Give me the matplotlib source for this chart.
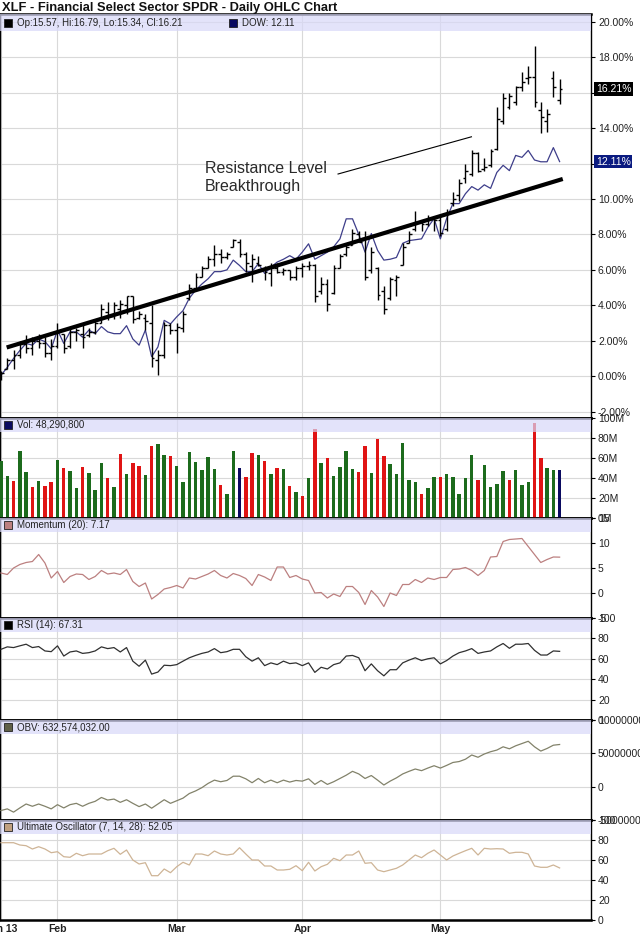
"""
XLF daily OHLC chart with volume and four indicator panels.
"""

import numpy as np
import matplotlib.pyplot as plt
from matplotlib.patches import Rectangle
from matplotlib.ticker import FuncFormatter

plt.rcParams['font.family'] = ['Liberation Sans', 'DejaVu Sans']

# ---- data (percent change) ----
title = "XLF - Financial Select Sector SPDR - Daily OHLC Chart"
month_pos = [0, 9, 28, 48, 70]
month_labels = ["Jan 13", "Feb", "Mar", "Apr", "May"]

open_ = [0.0, 0.4, 0.9, 1.2, 1.8, 1.6, 2.0, 1.9, 1.3, 1.7,
         2.4, 1.7, 2.5, 2.4, 2.3, 2.5, 3.0, 3.6, 3.4, 3.8,
         4.0, 4.5, 3.3, 3.3, 3.0, 0.9, 1.2, 2.9, 2.6, 2.7,
         4.4, 5.0, 5.6, 6.1, 6.6, 6.9, 6.7, 7.3, 7.6, 6.9,
         6.2, 6.4, 6.0, 5.8, 6.1, 5.9, 6.0, 5.6, 6.1, 6.2,
         6.3, 4.8, 5.2, 4.7, 6.1, 6.9, 7.4, 8.0, 7.8, 6.0,
         6.1, 4.8, 4.4, 5.4, 6.3, 7.5, 8.3, 8.7, 8.6, 8.9,
         8.8, 8.3, 9.8, 10.2, 11.2, 11.4, 12.6, 11.7, 11.9, 12.8,
         14.4, 15.2, 15.5, 16.3, 16.8, 16.9, 15.0, 14.4, 16.8, 15.57]
high = [0.3, 1.0, 1.5, 2.0, 2.3, 2.2, 2.4, 2.2, 2.1, 3.0,
        2.4, 2.8, 2.7, 3.0, 2.7, 3.15, 4.1, 4.2, 4.2, 4.3,
        4.55, 4.55, 3.7, 3.5, 4.0, 1.5, 3.06, 3.0, 3.0, 3.7,
        5.2, 5.8, 6.2, 6.8, 7.4, 7.2, 7.0, 7.75, 7.75, 7.0,
        6.9, 6.8, 6.2, 6.4, 6.4, 6.1, 6.0, 6.2, 6.4, 6.5,
        6.35, 5.6, 5.5, 6.25, 6.9, 7.5, 8.3, 8.2, 8.2, 7.3,
        6.15, 5.1, 5.6, 5.7, 7.5, 8.2, 9.35, 8.8, 9.1, 9.0,
        9.1, 9.45, 10.4, 11.1, 12.0, 12.75, 12.65, 12.3, 12.8, 15.2,
        16.0, 16.0, 16.4, 17.15, 17.5, 18.65, 15.45, 15.1, 17.25, 16.79]
low = [-0.2, 0.4, 0.4, 1.0, 1.3, 1.2, 1.6, 1.1, 0.9, 1.6,
       1.3, 1.6, 2.0, 1.6, 2.2, 2.4, 3.0, 3.15, 3.2, 3.3,
       3.5, 3.0, 3.2, 2.6, 0.5, 0.05, 1.0, 2.4, 1.3, 2.5,
       4.3, 5.0, 5.6, 6.1, 6.2, 6.4, 6.6, 7.3, 6.7, 5.9,
       5.3, 6.2, 5.4, 5.1, 5.8, 5.7, 5.4, 5.4, 5.6, 6.0,
       4.2, 4.65, 3.7, 4.65, 6.1, 6.8, 7.4, 7.55, 5.4, 5.8,
       4.3, 3.5, 4.3, 4.5, 6.25, 7.5, 8.2, 8.2, 8.5, 8.2,
       7.9, 8.2, 9.6, 9.9, 10.9, 11.3, 11.5, 11.6, 11.8, 12.75,
       14.25, 15.1, 15.3, 16.1, 16.5, 15.2, 13.7, 13.8, 15.75, 15.34]
close = [0.2, 0.9, 1.2, 1.8, 1.6, 2.0, 1.9, 1.3, 1.7, 2.5,
         1.6, 2.5, 2.6, 2.2, 2.5, 3.0, 3.8, 3.4, 4.0, 4.1,
         4.5, 3.2, 3.5, 3.1, 1.0, 1.2, 2.9, 2.6, 2.8, 3.5,
         5.0, 5.6, 6.1, 6.6, 6.9, 6.7, 6.9, 7.7, 6.9, 6.4,
         6.6, 6.3, 5.9, 6.1, 5.9, 6.0, 5.6, 6.1, 6.2, 6.3,
         4.5, 5.2, 4.1, 6.1, 6.8, 7.3, 8.1, 7.6, 5.6, 7.0,
         4.6, 3.8, 5.5, 5.6, 7.3, 8.0, 8.7, 8.6, 8.9, 8.8,
         8.1, 9.2, 10.0, 10.9, 11.6, 12.6, 11.6, 11.8, 12.7, 14.5,
         15.7, 15.8, 16.3, 16.6, 16.9, 15.5, 14.6, 14.8, 16.3, 16.21]
dow = [0.05, 0.5, 1.0, 1.45, 1.85, 1.75, 2.1, 1.95, 1.55, 2.6,
       1.85, 2.5, 2.5, 2.2, 2.6, 2.4, 2.8, 2.5, 2.4, 2.4,
       2.85, 2.1, 1.75, 2.6, 1.1, 1.65, 3.15, 2.95, 3.35, 3.7,
       4.4, 4.85, 5.2, 5.5, 5.9, 5.9, 6.0, 6.55, 6.25, 5.9,
       5.9, 6.35, 5.8, 6.15, 6.44, 6.6, 6.8, 6.6, 7.0, 7.47,
       6.6, 6.8, 7.0, 7.3, 7.75, 8.88, 8.88, 8.0, 7.0, 8.05,
       7.1, 6.55, 6.6, 6.7, 7.5, 7.65, 7.7, 7.75, 8.4, 8.9,
       7.75, 8.9, 9.74, 9.74, 10.3, 10.7, 10.5, 10.8, 10.6, 11.5,
       11.9, 11.6, 12.46, 12.35, 12.74, 12.2, 12.1, 12.1, 12.9, 12.11]

# trend line and note line endpoints (bar index, percent)
trend_x = [0.9, 89.5]
trend_y = [1.62, 11.13]
note_x = [53.7, 74.95]
note_y = [11.41, 13.51]
note_text = "Resistance Level\nBreakthrough"
note_pos = (32.5, 12.15)

# volume in millions, G = up day, R = down day, N = latest
volume = [57, 42, 37, 67, 46, 31, 37, 32, 36, 58,
          50, 47, 30, 51, 45, 28, 55, 40, 31, 64,
          44, 55, 52, 43, 72, 74, 63, 62, 52, 36,
          66, 56, 48, 61, 49, 33, 24, 67, 50, 41,
          65, 63, 57, 44, 50, 49, 32, 26, 22, 40,
          89, 55, 60, 42, 51, 67, 49, 46, 72, 45,
          79, 62, 54, 44, 75, 38, 36, 24, 30, 41,
          41, 44, 41, 24, 40, 63, 38, 53, 31, 34,
          47, 38, 48, 33, 36, 95, 60, 50, 48, 48.2908]
vol_dir = list("GGRGGRGRRG" "RGGRGGGRGR" "GRRGRGGRGG" "GGGGGRGGNR"
               "RGRGRGRGRG" "RGRGGGGRRG" "RRGGGGGRGG" "RGGGGGRGGG"
               "GRGGGRRGGN")

momentum = [4.0, 3.7, 5.0, 5.7, 6.1, 6.3, 7.7, 6.0, 3.0, 4.3,
            2.1, 3.3, 3.8, 3.7, 2.7, 3.3, 4.5, 3.8, 4.0, 3.7,
            4.7, 2.3, 1.3, 2.0, -1.2, -0.3, 0.8, 1.1, 1.5, 1.0,
            3.0, 2.8, 3.3, 3.8, 4.5, 3.5, 3.0, 3.9, 3.5, 2.9,
            1.5, 3.7, 3.2, 2.5, 5.2, 5.2, 3.1, 3.5, 2.8, 2.5,
            0.0, 0.1, -1.0, -0.2, -0.7, 1.3, 1.3, 0.1, -2.3, 0.5,
            -0.8, -2.7, 0.0, -0.5, 1.7, 1.7, 2.7, 2.1, 3.0, 2.7,
            3.1, 3.1, 4.7, 4.8, 5.1, 4.5, 3.5, 4.5, 7.2, 7.3,
            10.3, 10.7, 10.8, 10.9, 9.3, 7.7, 6.1, 6.7, 7.2, 7.17]
rsi = [69.3, 71.7, 71, 72.7, 74.3, 71, 72, 67.7, 67, 72.7,
       62.7, 66.7, 67.7, 65.3, 66, 67.7, 71.7, 70, 71, 66.7,
       71, 57.7, 52.7, 58.7, 45, 47, 53.7, 53.3, 54.3, 57.7,
       61, 63.3, 65.3, 66.7, 70, 66, 67, 69.3, 69.3, 62,
       57.7, 61, 53.3, 56, 54.3, 57.7, 55.3, 56, 53.3, 56,
       46.7, 51.7, 50, 54.3, 56, 62.7, 63.3, 61, 48.3, 55,
       48.3, 43.3, 49.3, 49.3, 56, 58.7, 61, 58.3, 60, 61,
       55, 58.3, 62.7, 66, 67.7, 70, 65.3, 66.7, 67.7, 71.7,
       75, 70.3, 74.3, 74.3, 75, 68.3, 63.7, 63.7, 67.7, 67.31]
# on balance volume, millions
obv = [-358, -333, -382, -319, -260, -294, -260, -294, -333, -270,
       -319, -270, -250, -294, -250, -220, -162, -201, -186, -235,
       -196, -250, -299, -260, -323, -260, -196, -250, -211, -172,
       -103, -64, -15, 49, 98, 74, 93, 157, 157, 118,
       59, 123, 59, 98, 59, 98, 69, 93, 83, 118,
       34, 93, 34, 74, 123, 172, 230, 191, 123, 167,
       98, 25, 83, 132, 191, 230, 265, 240, 279, 314,
       279, 319, 363, 377, 412, 475, 441, 490, 524, 549,
       598, 568, 613, 647, 681, 598, 534, 573, 622, 632.574032]
ult_osc = [77.3, 77.3, 77.3, 75, 74.3, 71, 73.3, 71, 67.3, 68.3,
           63.3, 62.7, 66.7, 64.3, 66, 66, 66, 69.3, 71.7, 65.7,
           70, 60, 56, 57.3, 44.3, 44.3, 51, 47.3, 53.3, 57.7,
           55, 66, 66, 64.3, 69, 66, 65, 66, 72.3, 66,
           60, 60, 54, 54, 50, 50, 50.7, 54.3, 49.3, 57.7,
           49, 53.3, 55.7, 61.7, 59.3, 65, 65, 69, 56.7, 57.3,
           50, 48.3, 50, 51.7, 55, 60, 65, 62.3, 66.7, 70,
           65, 60, 64, 66.7, 69.3, 71.7, 65, 71.7, 71, 71.3,
           71, 66.7, 67.7, 67.7, 66, 54, 52.7, 52.7, 55, 52.05]

# ---- layout (pixels of the 640x940 image) ----
W, H = 640, 940
PLOT_L, PLOT_R = 0, 591
BAND = "#d8d8f8"
GRID = "#d9d9d9"
TXT = "#222222"
vol_colors = {"G": "#1c6b1c", "R": "#e01414", "N": "#0a0a60"}


def add_panel(fig, top, bottom):
    return fig.add_axes([PLOT_L / W, 1 - bottom / H,
                         (PLOT_R - PLOT_L) / W, (bottom - top) / H])


def style_panel(ax, top, bottom, ylim, yticks, fmt, band_px=14):
    ax.set_xlim(-0.16, 94)
    ax.set_ylim(*ylim)
    ax.set_yticks(yticks)
    ax.yaxis.set_major_formatter(FuncFormatter(fmt))
    ax.yaxis.tick_right()
    ax.tick_params(axis="y", direction="out", length=3, width=0.8,
                   labelsize=7.5, pad=2, labelcolor=TXT)
    ax.set_xticks(month_pos)
    ax.tick_params(axis="x", length=0, labelbottom=False)
    ax.grid(True, color=GRID, lw=0.8)
    ax.set_axisbelow(True)
    for s in ["top", "bottom"]:
        ax.spines[s].set_linewidth(1.8)
    for s in ["left", "right"]:
        ax.spines[s].set_linewidth(1.0)
    h = band_px / (bottom - top)
    ax.add_patch(Rectangle((0, 1 - h), 1, h, transform=ax.transAxes,
                           facecolor=BAND, alpha=0.7, lw=0, zorder=4))
    return 1 - h / 2


def legend_item(ax, y, x_px, color, text):
    w = PLOT_R - PLOT_L
    ax.plot([(x_px + 4) / w], [y], marker="s", ms=5.5, mfc=color, mec="#222222",
            mew=0.6, transform=ax.transAxes, clip_on=False, zorder=6)
    ax.text((x_px + 13) / w, y, text, transform=ax.transAxes, va="center",
            ha="left", fontsize=7, color=TXT, zorder=6)


def value_box(ax, value, color):
    ax.text(1.008, value, f"{value:.2f}%", transform=ax.get_yaxis_transform(),
            va="center", ha="left", fontsize=7.5, color="white", zorder=10,
            clip_on=False, bbox=dict(boxstyle="square,pad=0.18", fc=color, ec="none"))


def main():
    x = np.arange(len(close))
    fig = plt.figure(figsize=(W / 100, H / 100), dpi=100)
    fig.text(2 / W, 1 - 8 / H, title, fontsize=9.3, fontweight="bold",
             va="center", ha="left", color="#111111")

    # price panel
    ax = add_panel(fig, 14, 418)
    hidden = (close[-1], dow[-1])
    yb = style_panel(ax, 14, 418, (-2.36, 20.44), np.arange(-2, 21, 2),
                     lambda v, p: "" if min(abs(v - t) for t in hidden) < 0.6 else f"{v:.2f}%",
                     band_px=17)
    ax.plot(x, dow, color="#3e3e8a", lw=0.9, zorder=2)
    ax.vlines(x, low, high, color="black", lw=1.0, zorder=3)
    ax.hlines(open_, x - 0.45, x, color="black", lw=1.0, zorder=3)
    ax.hlines(close, x, x + 0.45, color="black", lw=1.0, zorder=3)
    ax.plot(trend_x, trend_y, color="black", lw=3, solid_capstyle="butt", zorder=5)
    ax.plot(note_x, note_y, color="black", lw=0.8, zorder=5)
    ax.text(note_pos[0], note_pos[1], note_text, fontsize=11.5, va="top",
            ha="left", color="#2a2a2a", linespacing=1.22, zorder=5)
    legend_item(ax, yb, 4, "black",
                f"Op:{open_[-1]:.2f}, Hi:{high[-1]:.2f}, Lo:{low[-1]:.2f}, Cl:{close[-1]:.2f}")
    legend_item(ax, yb, 229, "#0a0a60", f"DOW: {dow[-1]:.2f}")
    value_box(ax, close[-1], "black")
    value_box(ax, dow[-1], "#0a1a80")

    # volume
    ax = add_panel(fig, 418, 518)
    yb = style_panel(ax, 418, 518, (0, 100), np.arange(0, 101, 20),
                     lambda v, p: f"{v:.0f}M")
    ax.bar(x, volume, width=0.55, color=[vol_colors[c] for c in vol_dir], zorder=3)
    legend_item(ax, yb, 4, "#0a0a60", f"Vol: {round(volume[-1] * 1e6):,}")

    # momentum
    ax = add_panel(fig, 518, 618)
    yb = style_panel(ax, 518, 618, (-5, 15), [-5, 0, 5, 10, 15],
                     lambda v, p: f"{v:.0f}")
    ax.plot(x, momentum, color="#bc8080", lw=0.9, zorder=3)
    legend_item(ax, yb, 4, "#bc8080", f"Momentum (20): {momentum[-1]:.2f}")

    # RSI
    ax = add_panel(fig, 618, 720)
    yb = style_panel(ax, 618, 720, (0, 100), np.arange(0, 101, 20),
                     lambda v, p: f"{v:.0f}")
    ax.plot(x, rsi, color="#303030", lw=0.9, zorder=3)
    legend_item(ax, yb, 4, "black", f"RSI (14): {rsi[-1]:.2f}")

    # OBV
    ax = add_panel(fig, 720, 820)
    yb = style_panel(ax, 720, 820, (-5e8, 1e9), [-5e8, 0, 5e8, 1e9],
                     lambda v, p: f"{v:.0f}")
    ax.plot(x, np.array(obv) * 1e6, color="#82826a", lw=0.9, zorder=3)
    legend_item(ax, yb, 4, "#606048", f"OBV: {obv[-1] * 1e6:,.2f}")

    # ultimate oscillator
    ax = add_panel(fig, 820, 920)
    yb = style_panel(ax, 820, 920, (0, 100), np.arange(0, 101, 20),
                     lambda v, p: f"{v:.0f}")
    ax.plot(x, ult_osc, color="#ceb496", lw=0.9, zorder=3)
    legend_item(ax, yb, 4, "#c0a080", f"Ultimate Oscillator (7, 14, 28): {ult_osc[-1]:.2f}")
    ax.tick_params(axis="x", labelbottom=True, pad=3)
    ax.set_xticklabels(month_labels, fontsize=7.5, fontweight="bold", color=TXT)

    fig.savefig("out.png", dpi=100, facecolor="white")
    plt.close(fig)


if __name__ == "__main__":
    main()
